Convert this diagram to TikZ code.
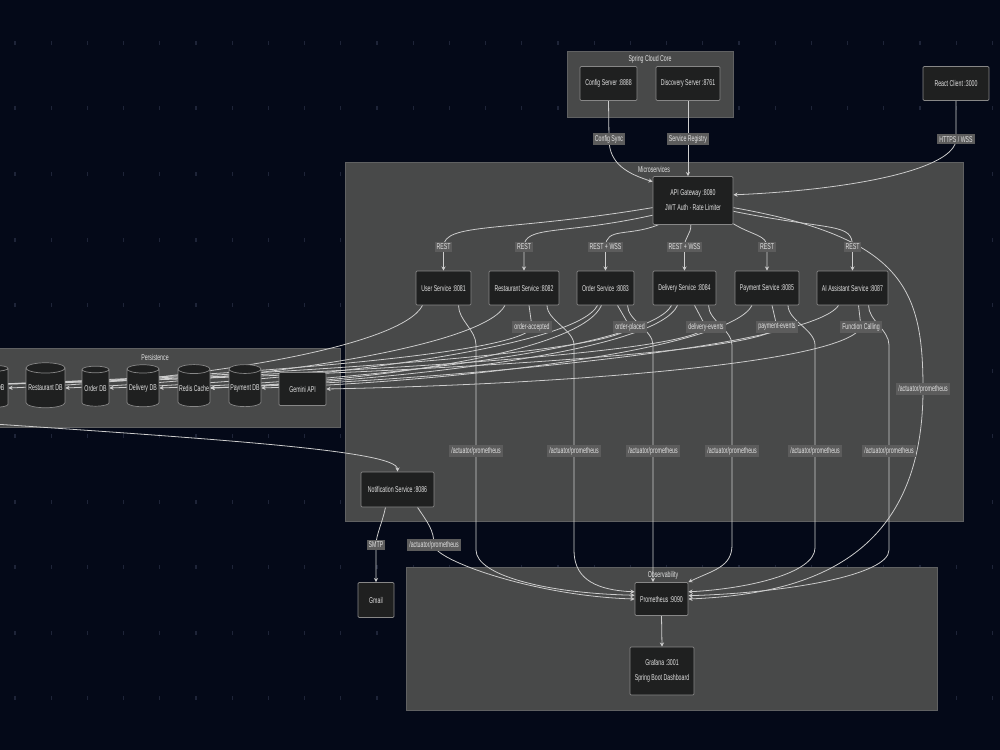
\documentclass[tikz,border=0pt]{standalone}
\usepackage{fontspec}
\usepackage{tikz}
\usetikzlibrary{shapes.geometric,arrows.meta,calc}
\newfontfamily\dgmfont[FakeStretch=0.62]{Liberation Sans}
\definecolor{pagebg}{RGB}{4,9,24}
\definecolor{dotc}{RGB}{30,36,56}
\definecolor{grpfill}{RGB}{72,73,73}
\definecolor{grpline}{RGB}{96,97,98}
\definecolor{nodefill}{RGB}{31,32,32}
\definecolor{nodeline}{RGB}{135,135,135}
\definecolor{txt}{RGB}{226,226,226}
\definecolor{lblbg}{RGB}{92,92,92}
\definecolor{wire}{RGB}{205,205,205}
\pgfdeclarelayer{bg}
\pgfdeclarelayer{wires}
\pgfsetlayers{bg,wires,main}

\begin{document}
\begin{tikzpicture}[x=0.02cm,y=-0.02cm,
every node/.style={font=\dgmfont\fontsize{4.8}{8.5}\selectfont, text=txt, align=center},
grp/.style={fill=grpfill, draw=grpline, line width=0.4pt},
svc/.style={draw=nodeline, fill=nodefill, rounded corners=0.6pt, line width=0.4pt, inner sep=0pt, minimum height=0.68cm},
dbs/.style={cylinder, shape border rotate=90, aspect=0.3, draw=nodeline, fill=nodefill, line width=0.4pt, inner sep=0pt, minimum height=0.84cm},
elbl/.style={fill=lblbg, inner sep=1.1pt},
flow/.style={draw=wire, line width=0.45pt, -{Stealth[length=2.4pt,width=2.4pt]}}]
\useasboundingbox (0,0) rectangle (1000,750);
\begin{pgfonlayer}{bg}
\fill[pagebg] (0,0) rectangle (1000,750);
\foreach \i in {0,...,27}
  \foreach \j in {0,...,10}
    \fill[dotc] ({14.4+36.2*\i},{41+65.5*\j}) rectangle ++(1.2,4);
\path[grp] (567,51) rectangle (733,117);
\path[grp] (345,162) rectangle (963,521);
\path[grp] (-20,348) rectangle (340,427);
\path[grp] (406,567) rectangle (937,710);
\end{pgfonlayer}

\node (tcore) at (650,59) {Spring Cloud Core};
\node (tmicro) at (654,169) {Microservices};
\node (tpersist) at (155,357) {Persistence};
\node (tobs) at (663,575) {Observability};

\node[svc, minimum width=1.14cm] (cfg) at (608.5,83.5) {Config Server :8888};
\node[svc, minimum width=1.28cm] (disc) at (688,83.5) {Discovery Server :8761};
\node[svc, minimum width=1.32cm] (react) at (956,83.5) {React Client :3000};
\node[svc, minimum width=1.6cm, minimum height=0.96cm] (gw) at (693,200.5) {API Gateway :8080\\JWT Auth · Rate Limiter};
\node[svc, minimum width=1.1cm] (usr) at (443.5,288) {User Service :8081};
\node[svc, minimum width=1.4cm] (rest) at (524,288) {Restaurant Service :8082};
\node[svc, minimum width=1.14cm] (ord) at (605.5,288) {Order Service :8083};
\node[svc, minimum width=1.26cm] (dlv) at (684.5,288) {Delivery Service :8084};
\node[svc, minimum width=1.28cm] (pay) at (767,288) {Payment Service :8085};
\node[svc, minimum width=1.42cm] (ai) at (852.5,288) {AI Assistant Service :8087};
\node[svc, minimum width=1.46cm, minimum height=0.7cm] (notif) at (397.5,489.5) {Notification Service :8086};
\node[svc, minimum width=0.72cm, minimum height=0.7cm] (gmail) at (376,600) {Gmail};
\node[svc, minimum width=1.06cm, minimum height=0.66cm] (prom) at (661.5,599) {Prometheus :9090};
\node[svc, minimum width=1.28cm, minimum height=0.96cm] (graf) at (662,671) {Grafana :3001\\Spring Boot Dashboard};

\node[dbs, minimum width=0.54cm] (udb) at (-5.5,388) {User DB};
\node[dbs, minimum width=0.78cm, minimum height=0.9cm] (rdb) at (45.5,388) {Restaurant DB};
\node[dbs, minimum width=0.54cm, minimum height=0.8cm] (odb) at (95.5,388) {Order DB};
\node[dbs, minimum width=0.64cm] (ddb) at (143,388) {Delivery DB};
\node[dbs, minimum width=0.64cm] (redis) at (194,388) {Redis Cache};
\node[dbs, minimum width=0.64cm] (pdb) at (245,388) {Payment DB};
\node[svc, minimum width=0.94cm, minimum height=0.66cm] (gem) at (302.5,389) {Gemini API};
\coordinate (kafka) at (-80,386);
\coordinate (kafkaN) at (-80,419);

\node[elbl] (lCS) at (609,139) {Config Sync};
\node[elbl] (lSR) at (688,139) {Service Registry};
\node[elbl] (lHW) at (956,139) {HTTPS / WSS};
\node[elbl] (lU) at (443.5,247) {REST};
\node[elbl] (lR) at (524,247) {REST};
\node[elbl] (lO) at (605.5,247) {REST + WSS};
\node[elbl] (lD) at (684.5,247) {REST + WSS};
\node[elbl] (lP) at (767,247) {REST};
\node[elbl] (lA) at (852.5,247) {REST};
\node[elbl] (lOA) at (532,327) {order-accepted};
\node[elbl] (lOP) at (630,327) {order-placed};
\node[elbl] (lDE) at (706,327) {delivery-events};
\node[elbl] (lPE) at (777,327) {payment-events};
\node[elbl] (lFC) at (861,327) {Function Calling};
\node[elbl] (aU) at (476,451) {/actuator/prometheus};
\node[elbl] (aR) at (574,451) {/actuator/prometheus};
\node[elbl] (aO) at (653,451) {/actuator/prometheus};
\node[elbl] (aD) at (732,451) {/actuator/prometheus};
\node[elbl] (aP) at (815,451) {/actuator/prometheus};
\node[elbl] (aA) at (889,451) {/actuator/prometheus};
\node[elbl] (aG) at (923,389) {/actuator/prometheus};
\node[elbl] (aN) at (434,545) {/actuator/prometheus};
\node[elbl] (lSM) at (376,545) {SMTP};

\begin{pgfonlayer}{wires}
\draw[flow] (cfg.south) -- (lCS.center) .. controls +(0,25) and +(-25,-8) .. (gw.155);
\draw[flow] (disc.south) -- (lSR.center) -- (lSR.center |- gw.north);
\draw[flow] (react.south) -- (lHW.center) .. controls +(0,30) and +(120,-5) .. (gw.8);

\draw[flow] (gw.190) .. controls +(-150,25) and +(0,-25) .. (lU.center) -- (usr.north);
\draw[flow] (gw.200) .. controls +(-90,20) and +(0,-22) .. (lR.center) -- (rest.north);
\draw[flow] (gw.215) .. controls +(-30,12) and +(0,-20) .. (lO.center) -- (ord.north);
\draw[flow] (gw.265) .. controls +(0,10) and +(0,-10) .. (lD.center) -- (dlv.north);
\draw[flow] (gw.330) .. controls +(20,12) and +(0,-12) .. (lP.center) -- (pay.north);
\draw[flow] (gw.345) .. controls +(100,20) and +(0,-25) .. (lA.center) -- (ai.north);
\draw[flow] (gw.350) .. controls +(170,30) and +(0,-100) .. (aG.center) .. controls +(0,170) and +(120,-5) .. (prom.0);

\draw[flow] ($(usr.south)+(-21,0)$) .. controls +(-20,40) and +(200,-8) .. (udb.east);
\draw[flow] ($(rest.south)+(-19,0)$) .. controls +(-20,40) and +(200,-8) .. (rdb.east);
\draw[flow] ($(ord.south)+(-8,0)$) .. controls +(-20,40) and +(220,-8) .. (odb.east);
\draw[flow] ($(ord.south)+(-4,0)$) .. controls +(-20,45) and +(180,-8) .. (redis.east);
\draw[flow] ($(dlv.south)+(-13,0)$) .. controls +(-20,40) and +(230,-8) .. (ddb.east);
\draw[flow] ($(dlv.south)+(-7,0)$) .. controls +(-20,45) and +(200,-8) .. (redis.east);
\draw[flow] ($(pay.south)+(-15,0)$) .. controls +(-20,40) and +(230,-8) .. (pdb.east);
\draw[flow] ($(ai.south)+(-14,0)$) .. controls +(-25,40) and +(250,-8) .. (redis.east);
\draw[flow] ($(rest.south)+(5,0)$) -- (lOA.center) .. controls +(-10,30) and +(250,-5) .. (kafka);
\draw[flow] ($(ord.south)+(12,0)$) -- (lOP.center) .. controls +(-15,30) and +(250,-5) .. (kafka);
\draw[flow] ($(dlv.south)+(10,0)$) -- (lDE.center) .. controls +(-15,32) and +(260,-5) .. (kafka);
\draw[flow] ($(pay.south)+(5,0)$) -- (lPE.center) .. controls +(-15,34) and +(270,-5) .. (kafka);
\draw[flow] ($(ai.south)+(6,0)$) -- (lFC.center) .. controls +(-15,35) and +(250,-5) .. (gem.east);

\draw[flow] ($(usr.south)+(15,0)$) .. controls +(0,15) and +(0,-15) .. (aU |- 0,345) -- (aU.center) -- (aU |- 0,550) .. controls +(0,25) and +(-90,-2) .. (prom.172);
\draw[flow] ($(rest.south)+(23,0)$) .. controls +(0,15) and +(0,-15) .. (aR |- 0,345) -- (aR.center) -- (aR |- 0,550) .. controls +(0,25) and +(-45,-2) .. (prom.165);
\draw[flow] ($(ord.south)+(22,0)$) .. controls +(0,15) and +(0,-15) .. (aO |- 0,345) -- (aO.center) -- (aO |- prom.north);
\draw[flow] ($(dlv.south)+(24,0)$) .. controls +(0,15) and +(0,-15) .. (aD |- 0,345) -- (aD.center) -- (aD |- 0,545) .. controls +(0,22) and +(25,-12) .. (prom.north east);
\draw[flow] ($(pay.south)+(21,0)$) .. controls +(0,15) and +(0,-15) .. (aP |- 0,345) -- (aP.center) -- (aP |- 0,548) .. controls +(0,25) and +(60,-3) .. (prom.15);
\draw[flow] ($(ai.south)+(16,0)$) .. controls +(0,15) and +(0,-15) .. (aA |- 0,345) -- (aA.center) -- (aA |- 0,550) .. controls +(0,25) and +(100,-3) .. (prom.7);

\draw[flow] (kafkaN) .. controls +(280,19) and +(0,-22) .. (notif.north);
\draw[flow] ($(notif.south)+(-12,0)$) .. controls +(-3,15) and +(0,-10) .. (lSM.center) -- (gmail.north);
\draw[flow] ($(notif.south)+(20,0)$) .. controls +(10,15) and +(0,-15) .. (aN.center) .. controls +(0,15) and +(-100,-3) .. (prom.180);
\draw[flow] (prom.south) -- (graf.north);
\end{pgfonlayer}
\end{tikzpicture}
\end{document}
